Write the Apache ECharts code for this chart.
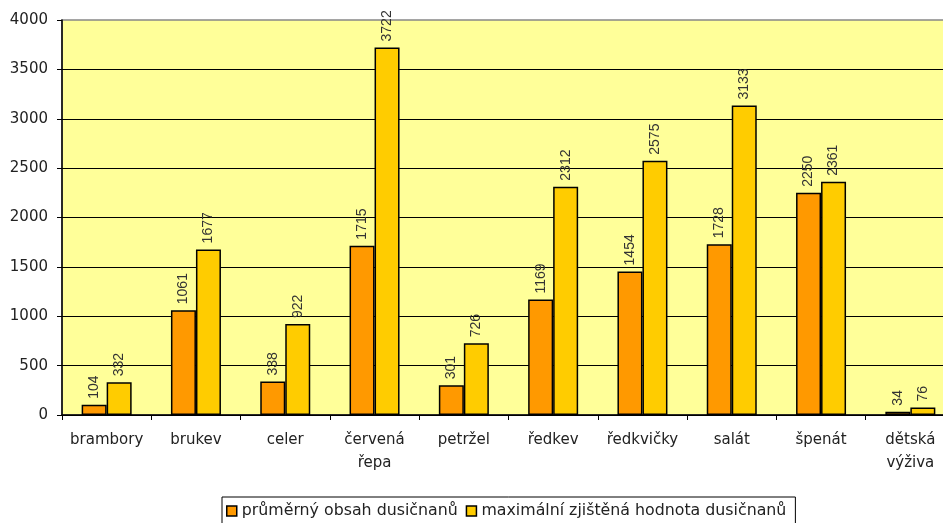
<!DOCTYPE html>
<html><head><meta charset="utf-8">
<script src="https://cdn.jsdelivr.net/npm/echarts@6/dist/echarts.min.js"></script>
<style>html,body{margin:0;padding:0;background:#fff}#c{width:943px;height:523px}</style>
</head><body><div id="c"></div>
<script>
const categories = ['brambory','brukev','celer','červená\nřepa','petržel','ředkev','ředkvičky','salát','špenát','dětská\nvýživa'];
const prumer = [104,1061,338,1715,301,1169,1454,1728,2250,34];
const maximum = [332,1677,922,3722,726,2312,2575,3133,2361,76];
const seriesNames = ['průměrný obsah dusičnanů','maximální zjištěná hodnota dusičnanů'];

const FONT = 'DejaVu Sans, sans-serif';
const chart = echarts.init(document.getElementById('c'));
const lbl = {show:true, position:'top', rotate:90, align:'left', verticalAlign:'middle', distance:6,
  fontFamily:'Liberation Sans, Arial, sans-serif', fontSize:14, color:'#333'};
chart.setOption({
  animation:false,
  textStyle:{fontFamily:FONT},
  grid:{left:62, top:20, width:893, height:395, containLabel:false, outerBoundsMode:'none',
    show:true, backgroundColor:'#FFFF99', borderColor:'#888', borderWidth:1.5},
  legend:{left:222, top:497, itemWidth:10, itemHeight:10, itemGap:8, padding:[6,9,12,4],
    borderColor:'#000', borderWidth:1, icon:'rect',
    itemStyle:{borderColor:'#000', borderWidth:1.5},
    textStyle:{fontSize:15.8, color:'#222', fontFamily:FONT}},
  xAxis:{type:'category', data:categories,
    axisLine:{lineStyle:{color:'#000', width:1.5}},
    axisTick:{show:true, length:5, lineStyle:{color:'#000'}},
    axisLabel:{interval:0, fontSize:15, color:'#222', margin:14, lineHeight:23, fontFamily:FONT}},
  yAxis:{type:'value', min:0, max:4000, interval:500,
    axisLine:{show:true, lineStyle:{color:'#000', width:1.5}},
    axisTick:{show:true, length:5, lineStyle:{color:'#000'}},
    axisLabel:{fontSize:15, color:'#222', margin:14, fontFamily:FONT, formatter:(v)=>String(v)},
    splitLine:{show:true, showMaxLine:false, lineStyle:{color:'#000', width:1}}},
  series:[
    {name:seriesNames[0], type:'bar', data:prumer, barWidth:25, barGap:'0%',
      itemStyle:{color:'#FF9900', borderColor:'#000', borderWidth:1.5}, label:lbl},
    {name:seriesNames[1], type:'bar', data:maximum, barWidth:25,
      itemStyle:{color:'#FFCC00', borderColor:'#000', borderWidth:1.5}, label:lbl}
  ]
});
</script></body></html>
